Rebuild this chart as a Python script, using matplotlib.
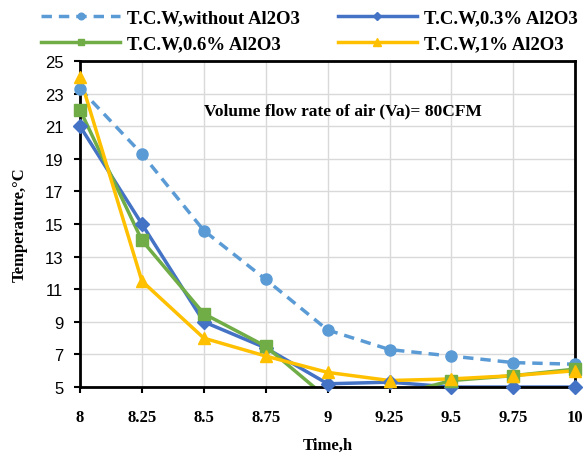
import matplotlib
matplotlib.use("Agg")
import matplotlib.pyplot as plt
import numpy as np

time_h = [8, 8.25, 8.5, 8.75, 9, 9.25, 9.5, 9.75, 10]
x_tick_labels = ["8", "8.25", "8.5", "8.75", "9", "9.25", "9.5", "9.75", "10"]
y_ticks = [5, 7, 9, 11, 13, 15, 17, 19, 21, 23, 25]

tcw_without = [23.3, 19.3, 14.6, 11.6, 8.5, 7.3, 6.9, 6.5, 6.4]
tcw_03 = [21.0, 15.0, 9.0, 7.4, 5.2, 5.3, 5.0, 5.0, 5.0]
tcw_06 = [22.0, 14.0, 9.5, 7.5, 4.3, 4.4, 5.4, 5.7, 6.1]
tcw_1 = [24.0, 11.5, 8.0, 6.9, 5.9, 5.4, 5.5, 5.7, 6.0]

serif = "Liberation Serif"
YMIN, YMAX = 5, 25

fig = plt.figure(figsize=(5.84, 4.56), dpi=100)
ax = fig.add_axes([0.137, 0.149, 0.848, 0.715])

series = [
    (tcw_without, "#5B9BD5", (0, (3, 2)), "o", 8, "T.C.W,without Al2O3"),
    (tcw_03, "#4472C4", "-", "D", 7, "T.C.W,0.3% Al2O3"),
    (tcw_06, "#70AD47", "-", "s", 8, "T.C.W,0.6% Al2O3"),
    (tcw_1, "#FFC000", "-", "^", 9, "T.C.W,1% Al2O3"),
]
handles = []
for vals, col, ls, mk, ms, lab in series:
    ax.plot(time_h, vals, color=col, ls=ls, lw=2.5)
    v = np.array(vals, dtype=float)
    v[v < YMIN] = np.nan
    ax.plot(time_h, v, color=col, ls="none", marker=mk, ms=ms, clip_on=False, zorder=4)
    h, = ax.plot([], [], color=col, ls=ls, lw=2.5, marker=mk, ms=ms * 0.6, label=lab)
    handles.append(h)

ax.set_xlim(8, 10)
ax.set_ylim(YMIN, YMAX)
ax.set_xticks(time_h)
ax.set_xticklabels(x_tick_labels, fontfamily=serif, fontweight="bold", fontsize=12)
ax.set_yticks(y_ticks)
ax.set_yticklabels([str(v) for v in y_ticks], fontfamily="Liberation Sans", fontsize=12)
ax.tick_params(axis="x", pad=12, length=4, width=1.5)
ax.tick_params(axis="y", pad=8, length=4, width=1.5)
ax.grid(True, color="#D9D9D9", lw=1)
ax.set_axisbelow(True)
for s in ax.spines.values():
    s.set_linewidth(2)
    s.set_color("black")

ax.set_xlabel("Time,h", fontfamily=serif, fontweight="bold", fontsize=12, labelpad=8)
ax.set_ylabel("Temperature,°C", fontfamily=serif, fontweight="bold", fontsize=12, labelpad=12)

ax.text(9.06, 22.0, "Volume flow rate of air (Va)= 80CFM", ha="center", va="center",
        fontfamily=serif, fontweight="bold", fontsize=12.5)

order = [handles[0], handles[2], handles[1], handles[3]]
fig.legend(handles=order, loc="upper center", bbox_to_anchor=(0.53, 1.015),
           ncol=2, frameon=False, prop={"family": serif, "weight": "bold", "size": 13.5},
           handlelength=4.2, columnspacing=2.0, handletextpad=0.4,
           labelspacing=0.5)

fig.savefig("out.png", dpi=100)
